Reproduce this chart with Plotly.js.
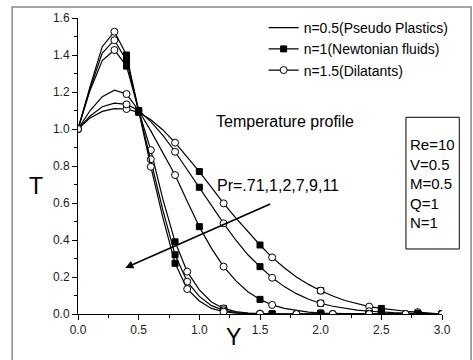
<!DOCTYPE html>
<html>
<head>
<meta charset="utf-8">
<script src="https://cdn.plot.ly/plotly-3.0.1.min.js"></script>
<style>html,body{margin:0;padding:0;background:#fff;}#chart{width:473px;height:360px;}</style>
</head>
<body>
<div id="chart"></div>
<script>
// Y grid (coordinate across the channel)
const yGrid = [0.0,0.1,0.2,0.3,0.4,0.5,0.6,0.7,0.8,0.9,1.0,1.1,1.2,1.3,1.4,1.5,1.6,1.7,1.8,1.9,2.0,2.1,2.2,2.3,2.4,2.5,2.6,2.7,2.8,2.9,3.0];

// Temperature profiles T(Y) for each Prandtl number
const T_Pr071 = [1.0,1.06,1.095,1.11,1.108,1.09,1.05,0.995,0.926,0.85,0.77,0.685,0.598,0.52,0.445,0.373,0.306,0.25,0.2,0.16,0.126,0.097,0.073,0.055,0.04,0.03,0.021,0.015,0.01,0.005,0.0];
const T_Pr1   = [1.0,1.07,1.12,1.14,1.133,1.10,1.04,0.965,0.877,0.78,0.685,0.585,0.49,0.40,0.32,0.256,0.196,0.148,0.11,0.08,0.058,0.042,0.03,0.021,0.015,0.01,0.007,0.005,0.003,0.002,0.001];
const T_Pr2   = [1.0,1.10,1.175,1.21,1.189,1.10,0.99,0.87,0.751,0.61,0.472,0.355,0.256,0.18,0.12,0.079,0.049,0.03,0.018,0.01,0.005,0.003,0.001,0.0,0.0,0.0,0.0,0.0,0.0,0.0,0.0];
const T_Pr7   = [1.0,1.21,1.37,1.427,1.34,1.10,0.886,0.62,0.39,0.229,0.13,0.065,0.03,0.013,0.005,0.002,0.001,0.0,0.0,0.0,0.0,0.0,0.0,0.0,0.0,0.0,0.0,0.0,0.0,0.0,0.0];
const T_Pr9   = [1.0,1.22,1.41,1.48,1.37,1.095,0.836,0.56,0.32,0.175,0.095,0.045,0.02,0.008,0.003,0.001,0.0,0.0,0.0,0.0,0.0,0.0,0.0,0.0,0.0,0.0,0.0,0.0,0.0,0.0,0.0];
const T_Pr11  = [1.0,1.23,1.445,1.526,1.40,1.09,0.796,0.52,0.274,0.135,0.07,0.03,0.012,0.005,0.002,0.001,0.0,0.0,0.0,0.0,0.0,0.0,0.0,0.0,0.0,0.0,0.0,0.0,0.0,0.0,0.0];

// Marker positions (Y) used for each fluid type
const lowPrSquareY  = [0.5,1.0,1.5,2.0,2.5,3.0];
const lowPrCircleY  = [0.0,0.4,0.8,1.2,1.6,2.0,2.4,2.8];
const highPrSquareY = [0.4,0.8,1.2,1.6,2.0,2.4,2.8];
const highPrCircleY = [0.0,0.3,0.6,0.9,1.2,1.5,1.8,2.1,2.4,2.7,3.0];

const legendNames = ['n=0.5(Pseudo Plastics)','n=1(Newtonian fluids)','n=1.5(Dilatants)'];
const boxText = ['Re=10','V=0.5','M=0.5','Q=1','N=1'];

const lowGroup  = [T_Pr071, T_Pr1, T_Pr2];
const highGroup = [T_Pr7, T_Pr9, T_Pr11];

function pick(curve, xs){ return xs.map(x => curve[yGrid.findIndex(g => Math.abs(g - x) < 1e-9)]); }

const lineStyle = {color:'#000', width:1.2};
const sqMarker = {symbol:'square', size:6, color:'#000', line:{color:'#000', width:1}};
const ciMarker = {symbol:'circle', size:7, color:'#fff', line:{color:'#000', width:1}};

const traces = [];
function addGroup(group, sqX, ciX){
  group.forEach(curve => {
    traces.push({x:yGrid, y:curve, mode:'lines', line:lineStyle, showlegend:false, hoverinfo:'skip'});
    traces.push({x:sqX, y:pick(curve, sqX), mode:'markers', marker:sqMarker, showlegend:false, hoverinfo:'skip'});
    traces.push({x:ciX, y:pick(curve, ciX), mode:'markers', marker:ciMarker, showlegend:false, hoverinfo:'skip'});
  });
}
addGroup(lowGroup, lowPrSquareY, lowPrCircleY);
addGroup(highGroup, highPrSquareY, highPrCircleY);

// legend entries
traces.push({x:[null], y:[null], mode:'lines', line:lineStyle, name:legendNames[0]});
traces.push({x:[null], y:[null], mode:'lines+markers', line:lineStyle, marker:sqMarker, name:legendNames[1]});
traces.push({x:[null], y:[null], mode:'lines+markers', line:lineStyle, marker:ciMarker, name:legendNames[2]});

const fontFam = 'Arial, Liberation Sans, sans-serif';
const layout = {
  width:473, height:360,
  margin:{l:78, r:31, t:18, b:46},
  paper_bgcolor:'#fff', plot_bgcolor:'#fff',
  font:{family:fontFam, color:'#000'},
  xaxis:{
    range:[0,3], showgrid:false, zeroline:false,
    showline:true, linecolor:'#000', linewidth:1,
    ticks:'outside', ticklen:5, tickwidth:1, tickcolor:'#000',
    dtick:0.5, tick0:0, tickformat:'.1f',
    minor:{ticks:'outside', ticklen:3, dtick:0.25, tickcolor:'#000'},
    tickfont:{size:12, color:'#222', family:fontFam},
    automargin:false
  },
  yaxis:{
    range:[0,1.6], showgrid:false, zeroline:false,
    showline:true, linecolor:'#000', linewidth:1,
    ticks:'outside', ticklen:5, tickwidth:1, tickcolor:'#000',
    dtick:0.2, tick0:0, tickformat:'.1f',
    minor:{ticks:'outside', ticklen:3, dtick:0.1, tickcolor:'#000'},
    tickfont:{size:12, color:'#222', family:fontFam},
    automargin:false
  },
  legend:{
    x:0.51, y:1.02, xanchor:'left', yanchor:'top',
    bgcolor:'rgba(0,0,0,0)', borderwidth:0,
    font:{size:14, family:fontFam, color:'#000'}
  },
  shapes:[
    {type:'rect', xref:'paper', yref:'paper', x0:-0.181, x1:1.08, y0:-0.17, y1:1.037, line:{color:'#888', width:1.5}},
    {type:'rect', xref:'paper', yref:'paper', x0:0.901, x1:1.0475, y0:0.2196, y1:0.6645, line:{color:'#000', width:1}}
  ],
  annotations:[
    // axis titles
    {x:(36-78)/364, y:(314-186)/296, xref:'paper', yref:'paper', xanchor:'center', yanchor:'middle', text:'T', showarrow:false, font:{size:23, family:fontFam}},
    {x:(233-78)/364, y:(314-337)/296, xref:'paper', yref:'paper', xanchor:'center', yanchor:'middle', text:'Y', showarrow:false, font:{size:23, family:fontFam}},
    {x:1.707, y:1.038, xref:'x', yref:'y', text:'Temperature profile', showarrow:false, font:{size:16, family:fontFam}},
    {x:1.648, y:0.697, xref:'x', yref:'y', text:'Pr=.71,1,2,7,9,11', showarrow:false, font:{size:16, family:fontFam}},
    {x:0.39, y:0.249, ax:1.597, ay:0.598, xref:'x', yref:'y', axref:'x', ayref:'y', text:'', showarrow:true, arrowhead:2, arrowsize:1, arrowwidth:1.6, arrowcolor:'#000'},
    {x:0.9066, y:0.441, xref:'paper', yref:'paper', xanchor:'left', yanchor:'middle', align:'left', text:boxText.join('<br>'), showarrow:false, font:{size:15, family:fontFam}}
  ]
};

Plotly.newPlot('chart', traces, layout, {displayModeBar:false, staticPlot:true});
</script>
</body>
</html>
